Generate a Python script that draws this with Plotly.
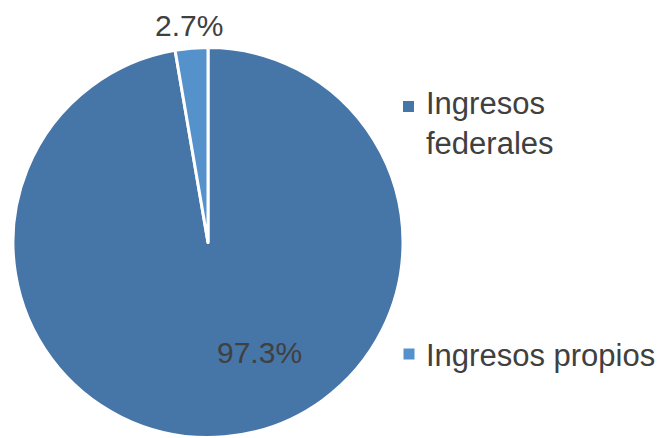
import plotly.graph_objects as go

categories = ["Ingresos federales", "Ingresos propios"]
values = [97.3, 2.7]
colors = ["#4675A7", "#5592CC"]
legend_labels = ["Ingresos<br>federales", "Ingresos propios"]

W, H = 662, 438
FONT = "Liberation Sans, Arial, sans-serif"
TXT = "#404040"

fig = go.Figure(go.Pie(
    labels=categories, values=values, sort=False, direction="clockwise",
    rotation=0, marker=dict(colors=colors, line=dict(color="white", width=3)),
    textinfo="none", hoverinfo="label+percent", showlegend=False,
    domain=dict(x=[13 / W, 403 / W], y=[0, 1 - 47 / H]),
))

def px(x, y):
    return x / W, 1 - y / H

# data labels
lab_pos = [(259.5, 352), (188.5, 25.5)]
for v, (x, y) in zip(values, lab_pos):
    ax, ay = px(x, y)
    fig.add_annotation(x=ax, y=ay, xref="paper", yref="paper", text=f"{v:.1f}%",
                       showarrow=False, xanchor="center", yanchor="middle",
                       font=dict(family=FONT, size=30, color=TXT))

# legend
leg_pos = [(408.5, 106.5, 123), (409, 354, 355)]
for lab, col, (sx, sy, ty) in zip(legend_labels, colors, leg_pos):
    x0, y0 = px(sx - 5.5, sy - 5.5)
    x1, y1 = px(sx + 5.5, sy + 5.5)
    fig.add_shape(type="rect", xref="paper", yref="paper", x0=x0, x1=x1, y0=y1, y1=y0,
                  fillcolor=col, line=dict(width=0))
    tx, tyy = px(424, ty)
    fig.add_annotation(x=tx, y=tyy, xref="paper", yref="paper", text=lab,
                       showarrow=False, xanchor="left", yanchor="middle", align="left",
                       font=dict(family=FONT, size=31, color=TXT))

fig.update_layout(width=W, height=H, margin=dict(l=0, r=0, t=0, b=0),
                  paper_bgcolor="white", plot_bgcolor="white")
fig.write_html("out.html", config={"displayModeBar": False},
               post_script="document.body.style.margin='0';")
